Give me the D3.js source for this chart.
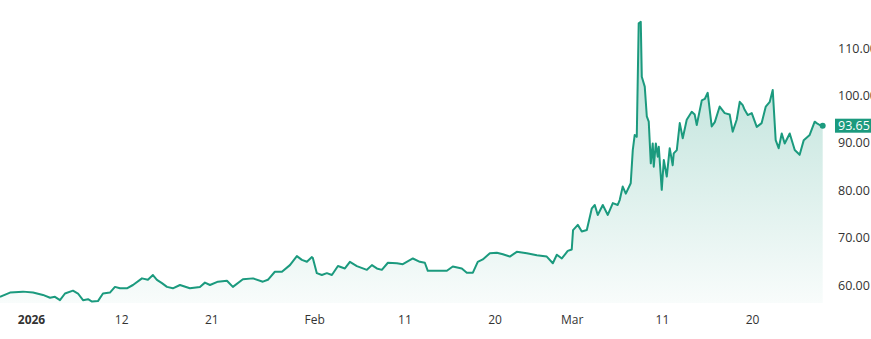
<!DOCTYPE html>
<html>
<head>
<meta charset="utf-8">
<script src="https://cdn.jsdelivr.net/npm/d3@7"></script>
<style>
  body { margin: 0; background: #fff; }
  svg { display: block; font-family: "Open Sans", "Noto Sans", sans-serif; }
</style>
</head>
<body>
<div id="chart"></div>
<script>
// trading session number (weekdays counted from Jan 1 2026) and price
const sessions = [
  -2.41, -1.63, -0.62, 0.16, 0.93, 1.48, 1.86, 2.25, 2.64, 3.26, 3.65, 4.04, 4.43, 4.74, 5.20,
  5.59, 6.13, 6.52, 6.91, 7.45, 7.92, 8.62, 9.08, 9.47, 9.78, 10.17, 10.56, 11.02, 11.57, 12.34,
  13.12, 13.51, 13.90, 14.52, 15.22, 15.68, 16.46, 17.24, 18.01, 18.40, 18.94, 19.49, 20.11, 20.65,
  21.04, 21.43, 21.82, 21.89, 22.20, 22.59, 22.98, 23.37, 23.84, 24.38, 24.77, 25.31, 26.09, 26.48,
  26.86, 27.25, 27.72, 28.42, 28.88, 29.66, 30.20, 30.59, 30.82, 31.52, 32.30, 32.76, 33.46, 33.85,
  34.32, 34.70, 35.09, 35.64, 36.18, 36.65, 37.19, 37.73, 38.51, 39.29, 40.06, 40.53, 40.84, 41.23,
  41.69, 42.00, 42.10, 42.47, 42.78, 43.17, 43.56, 43.79, 44.02, 44.41, 44.80, 45.19, 45.57, 45.73,
  45.96, 46.20, 46.58, 46.74, 46.89, 47.05, 47.20, 47.36, 47.44, 47.67, 47.83, 47.98, 48.14, 48.29,
  48.37, 48.53, 48.68, 48.76, 48.99, 49.15, 49.38, 49.61, 49.84, 49.92, 50.16, 50.39, 50.62, 50.93,
  51.32, 51.55, 51.71, 52.10, 52.33, 52.56, 52.87, 53.11, 53.49, 53.88, 54.27, 54.50, 54.81, 55.05,
  55.28, 55.43, 55.67, 55.98, 56.37, 56.75, 57.07, 57.38, 57.61, 57.84, 58.07, 58.31, 58.54, 58.93,
  59.32, 59.70, 60.02, 60.48, 60.87, 61.02, 61.26, 61.49
];
const prices = [
  57.5, 58.4, 58.6, 58.4, 57.9, 57.3, 57.5, 56.8, 58.2, 58.8, 58.2, 56.8, 57.0, 56.5, 56.6,
  58.2, 58.4, 59.6, 59.3, 59.3, 60.0, 61.4, 61.1, 62.1, 61.1, 60.4, 59.6, 59.3, 60.0, 59.3,
  59.6, 60.5, 60.0, 60.7, 60.9, 59.6, 61.2, 61.4, 60.7, 61.1, 62.8, 62.8, 64.2, 66.1,
  65.3, 64.9, 65.9, 65.7, 62.5, 62.1, 62.5, 62.1, 64.0, 63.5, 64.9, 64.0, 63.2, 64.2,
  63.5, 63.2, 64.7, 64.6, 64.4, 65.6, 64.9, 64.7, 63.0, 63.0, 63.0, 63.9, 63.5, 62.6,
  62.6, 64.9, 65.4, 66.7, 66.8, 66.5, 66.0, 67.0, 66.7, 66.3, 66.0, 64.6, 66.4, 65.6,
  67.2, 67.5, 71.6, 72.7, 71.3, 71.6, 76.2, 76.9, 74.8, 76.9, 74.8, 77.3, 76.9, 78.0,
  80.8, 79.3, 81.5, 88.5, 91.7, 91.3, 115.3, 115.6, 104.0, 101.9, 95.6, 94.5, 85.7, 89.9,
  85.0, 89.9, 87.1, 89.2, 80.1, 86.4, 82.9, 88.9, 85.3, 87.8, 88.5, 94.2, 91.0, 94.9,
  96.6, 96.0, 93.8, 99.0, 99.3, 100.6, 93.5, 94.4, 97.7, 96.3, 96.0, 92.4, 94.9, 98.7,
  98.0, 97.0, 95.9, 96.3, 93.4, 94.2, 97.7, 98.7, 101.2, 90.6, 88.9, 92.0, 89.9, 92.0,
  88.5, 87.5, 90.6, 91.7, 94.5, 94.2, 93.8, 93.65
];
const tickSessions = [0, 7, 14, 22, 29, 36, 42, 49, 56];
const tickLabels = ["2026", "12", "21", "Feb", "11", "20", "Mar", "11", "20"];
const priceTicks = [60, 70, 80, 90, 100, 110];
const lastPrice = 93.65;

const width = 871, height = 339;
const plotBottom = 303;
const green = "#1b9a7e";

const data = sessions.map((s, i) => ({ s: s, v: prices[i] }));

const x = d3.scaleLinear().domain([0, 56]).range([31, 752]);
const y = d3.scaleLinear().domain([60, 110]).range([285, 48.3]);

const svg = d3.select("#chart")
  .append("svg")
  .attr("width", width)
  .attr("height", height);

const grad = svg.append("defs").append("linearGradient")
  .attr("id", "fillGrad")
  .attr("gradientUnits", "userSpaceOnUse")
  .attr("x1", 0).attr("x2", 0)
  .attr("y1", y(115)).attr("y2", plotBottom);
grad.append("stop").attr("offset", "0%").attr("stop-color", green).attr("stop-opacity", 0.32);
grad.append("stop").attr("offset", "100%").attr("stop-color", green).attr("stop-opacity", 0.03);

// area under the price line
svg.append("path")
  .datum(data)
  .attr("fill", "url(#fillGrad)")
  .attr("d", d3.area().x(d => x(d.s)).y0(plotBottom).y1(d => y(d.v)));

svg.append("path")
  .datum(data)
  .attr("fill", "none")
  .attr("stroke", green)
  .attr("stroke-width", 2)
  .attr("stroke-linejoin", "round")
  .attr("d", d3.line().x(d => x(d.s)).y(d => y(d.v)));

const last = data[data.length - 1];
svg.append("circle")
  .attr("cx", x(last.s))
  .attr("cy", y(last.v))
  .attr("r", 3)
  .attr("fill", green);

// y axis on the right
const yAxis = svg.append("g")
  .attr("transform", "translate(832,0)")
  .call(d3.axisRight(y).tickValues(priceTicks).tickFormat(d3.format(".2f")).tickSize(0).tickPadding(6));
yAxis.select(".domain").remove();
yAxis.selectAll("text").attr("font-size", 12.5).attr("fill", "#333").attr("font-family", "Open Sans, sans-serif");

// x axis
const xAxis = svg.append("g")
  .attr("transform", `translate(0,${plotBottom + 12})`)
  .call(d3.axisBottom(x).tickValues(tickSessions).tickFormat((d, i) => tickLabels[i]).tickSize(0).tickPadding(0));
xAxis.select(".domain").remove();
xAxis.selectAll("text")
  .attr("font-size", 12)
  .attr("fill", "#333")
  .attr("font-family", "Open Sans, sans-serif")
  .attr("font-weight", (d, i) => i === 0 ? "bold" : "normal");

// last price tag
svg.append("rect")
  .attr("x", 835)
  .attr("y", y(lastPrice) - 7)
  .attr("width", 40)
  .attr("height", 14)
  .attr("fill", green);
svg.append("text")
  .attr("x", 838)
  .attr("y", y(lastPrice))
  .attr("dy", "0.35em")
  .attr("font-size", 12.5)
  .attr("fill", "#fff")
  .text(lastPrice.toFixed(2));
</script>
</body>
</html>
